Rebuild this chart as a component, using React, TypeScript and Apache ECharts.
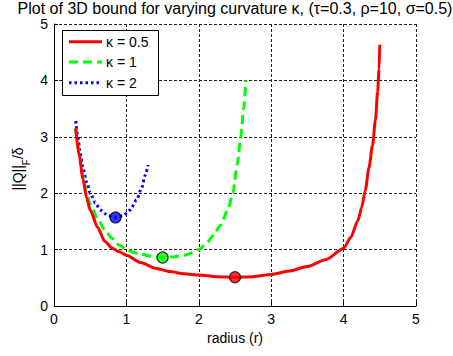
import React, { useEffect, useRef } from "react";
import * as echarts from "echarts";

const titleText = "Plot of 3D bound for varying curvature κ, (τ=0.3, ρ=10, σ=0.5)";
const xTicks = [0, 1, 2, 3, 4, 5];
const yTicks = [0, 1, 2, 3, 4, 5];

const seriesNames = ["κ = 0.5", "κ = 1", "κ = 2"];
const seriesColors = ["#ff0000", "#00ff00", "#0000ff"];

const redR = [0.3, 0.35, 0.4, 0.45, 0.5, 0.6, 0.7, 0.8, 0.9, 1.0, 1.2, 1.4, 1.6, 1.8, 2.0, 2.25, 2.5, 2.75, 3.0, 3.25, 3.5, 3.75, 4.0, 4.1, 4.2, 4.25, 4.3, 4.35, 4.4, 4.44, 4.47, 4.49, 4.5];
const redQ = [3.15, 2.65, 2.25, 1.92, 1.7, 1.4, 1.15, 1.03, 0.96, 0.9, 0.77, 0.67, 0.61, 0.57, 0.55, 0.52, 0.51, 0.52, 0.56, 0.62, 0.7, 0.82, 1.02, 1.22, 1.52, 1.75, 2.05, 2.45, 2.85, 3.3, 3.8, 4.2, 4.63];

const greenR = [0.3, 0.35, 0.4, 0.45, 0.5, 0.6, 0.7, 0.8, 0.9, 1.0, 1.1, 1.2, 1.35, 1.5, 1.65, 1.8, 1.9, 2.0, 2.1, 2.2, 2.3, 2.4, 2.47, 2.53, 2.58, 2.62, 2.65];
const greenQ = [3.15, 2.7, 2.3, 2.0, 1.8, 1.55, 1.35, 1.2, 1.08, 1.0, 0.95, 0.92, 0.88, 0.86, 0.87, 0.9, 0.94, 1.0, 1.1, 1.25, 1.43, 1.7, 2.0, 2.5, 3.0, 3.5, 4.0];

const blueR = [0.3, 0.33, 0.36, 0.4, 0.45, 0.5, 0.57, 0.64, 0.75, 0.85, 0.95, 1.05, 1.14, 1.21, 1.26, 1.3];
const blueQ = [3.28, 3.0, 2.72, 2.45, 2.2, 2.0, 1.83, 1.7, 1.6, 1.57, 1.6, 1.7, 1.88, 2.09, 2.32, 2.5];

const minR = [2.5, 1.5, 0.85];
const minQ = [0.51, 0.86, 1.57];

const FONT = "'Liberation Sans', Arial, sans-serif";

function pairs(xs: number[], ys: number[]) {
  return xs.map((x, i) => [x, ys[i]]);
}

export default function App() {
  const ref = useRef<HTMLDivElement>(null);
  useEffect(() => {
    if (!ref.current) return;
    const chart = echarts.init(ref.current, undefined, { renderer: "svg" });
    const lineData = [pairs(redR, redQ), pairs(greenR, greenQ), pairs(blueR, blueQ)];
    const lineTypes: any[] = ["solid", [9, 5], [2.5, 3]];
    const legendDash: any[] = [null, [9, 5], [2.5, 3]];
    const rowsY = [41.7, 62, 82.7];
    const gridLine = { show: true, lineStyle: { color: "#222", width: 1, type: [3, 2] } };
    const legendGraphics: any[] = [
      {
        type: "rect",
        shape: { x: 62.5, y: 30.5, width: 96, height: 65 },
        style: { fill: "#fff", stroke: "#000", lineWidth: 1 },
        z: 100,
      },
    ];
    seriesNames.forEach((name, i) => {
      legendGraphics.push({
        type: "line",
        shape: { x1: 69, y1: rowsY[i], x2: 102, y2: rowsY[i] },
        style: { stroke: seriesColors[i], lineWidth: 3, lineDash: legendDash[i] || undefined, lineCap: "butt" },
        z: 101,
      });
      legendGraphics.push({
        type: "text",
        x: 106,
        y: rowsY[i],
        style: { text: name, fontFamily: FONT, fontSize: 14, fill: "#000", align: "left", verticalAlign: "middle" },
        z: 101,
      });
    });
    chart.setOption({
      animation: false,
      backgroundColor: "#ffffff",
      textStyle: { fontFamily: FONT },
      title: {
        text: titleText,
        left: 235,
        top: 0,
        padding: 0,
        textAlign: "center",
        textStyle: { fontFamily: FONT, fontSize: 16, lineHeight: 16, fontWeight: "normal", color: "#000" },
      },
      grid: { left: 54, right: 37, top: 24, bottom: 50, containLabel: false },
      xAxis: {
        type: "value",
        min: xTicks[0],
        max: xTicks[xTicks.length - 1],
        interval: 1,
        name: "radius (r)",
        nameLocation: "middle",
        nameGap: 23,
        nameTextStyle: { fontFamily: FONT, fontSize: 14, color: "#000" },
        axisLine: { show: true, onZero: false, lineStyle: { color: "#000", width: 1 } },
        axisTick: { show: true, inside: true, length: 4, lineStyle: { color: "#000" } },
        axisLabel: { fontFamily: FONT, fontSize: 14, color: "#000", margin: 6 },
        splitLine: gridLine,
      },
      yAxis: {
        type: "value",
        min: yTicks[0],
        max: yTicks[yTicks.length - 1],
        interval: 1,
        axisLine: { show: true, onZero: false, lineStyle: { color: "#000", width: 1 } },
        axisTick: { show: true, inside: true, length: 4, lineStyle: { color: "#000" } },
        axisLabel: { fontFamily: FONT, fontSize: 14, lineHeight: 14, color: "#000", margin: 6 },
        splitLine: gridLine,
      },
      graphic: [
        {
          type: "text",
          x: 21,
          y: 169,
          rotation: Math.PI / 2,
          style: {
            text: "{a|||Q||}{s|F}{a|/δ}",
            align: "center",
            verticalAlign: "middle",
            fill: "#000",
            rich: {
              a: { fontFamily: FONT, fontSize: 14, fill: "#000", lineHeight: 20, verticalAlign: "top" } as any,
              s: { fontFamily: FONT, fontSize: 10, fill: "#000", lineHeight: 20, verticalAlign: "bottom", padding: [6, 0, 0, 0] } as any,
            },
          },
        },
        ...legendGraphics,
      ],
      series: [
        ...seriesNames.map((name, i) => ({
          name,
          type: "line",
          data: lineData[i],
          symbol: "none",
          showSymbol: false,
          smooth: 0.25,
          smoothMonotone: "x",
          lineStyle: { color: seriesColors[i], width: 3, type: lineTypes[i], cap: "butt" },
          itemStyle: { color: seriesColors[i] },
          z: 3 - i,
        })),
        {
          name: "minima",
          type: "scatter",
          data: minR.map((r, i) => ({
            value: [r, minQ[i]],
            itemStyle: { color: seriesColors[i], borderColor: "#000", borderWidth: 1.2 },
          })),
          symbol: "circle",
          symbolSize: 11,
          z: 5,
        },
      ],
    });
    return () => chart.dispose();
  }, []);
  return (
    <div
      ref={ref}
      style={{ position: "fixed", left: 0, top: 0, width: 453, height: 356, background: "#fff" }}
    />
  );
}
